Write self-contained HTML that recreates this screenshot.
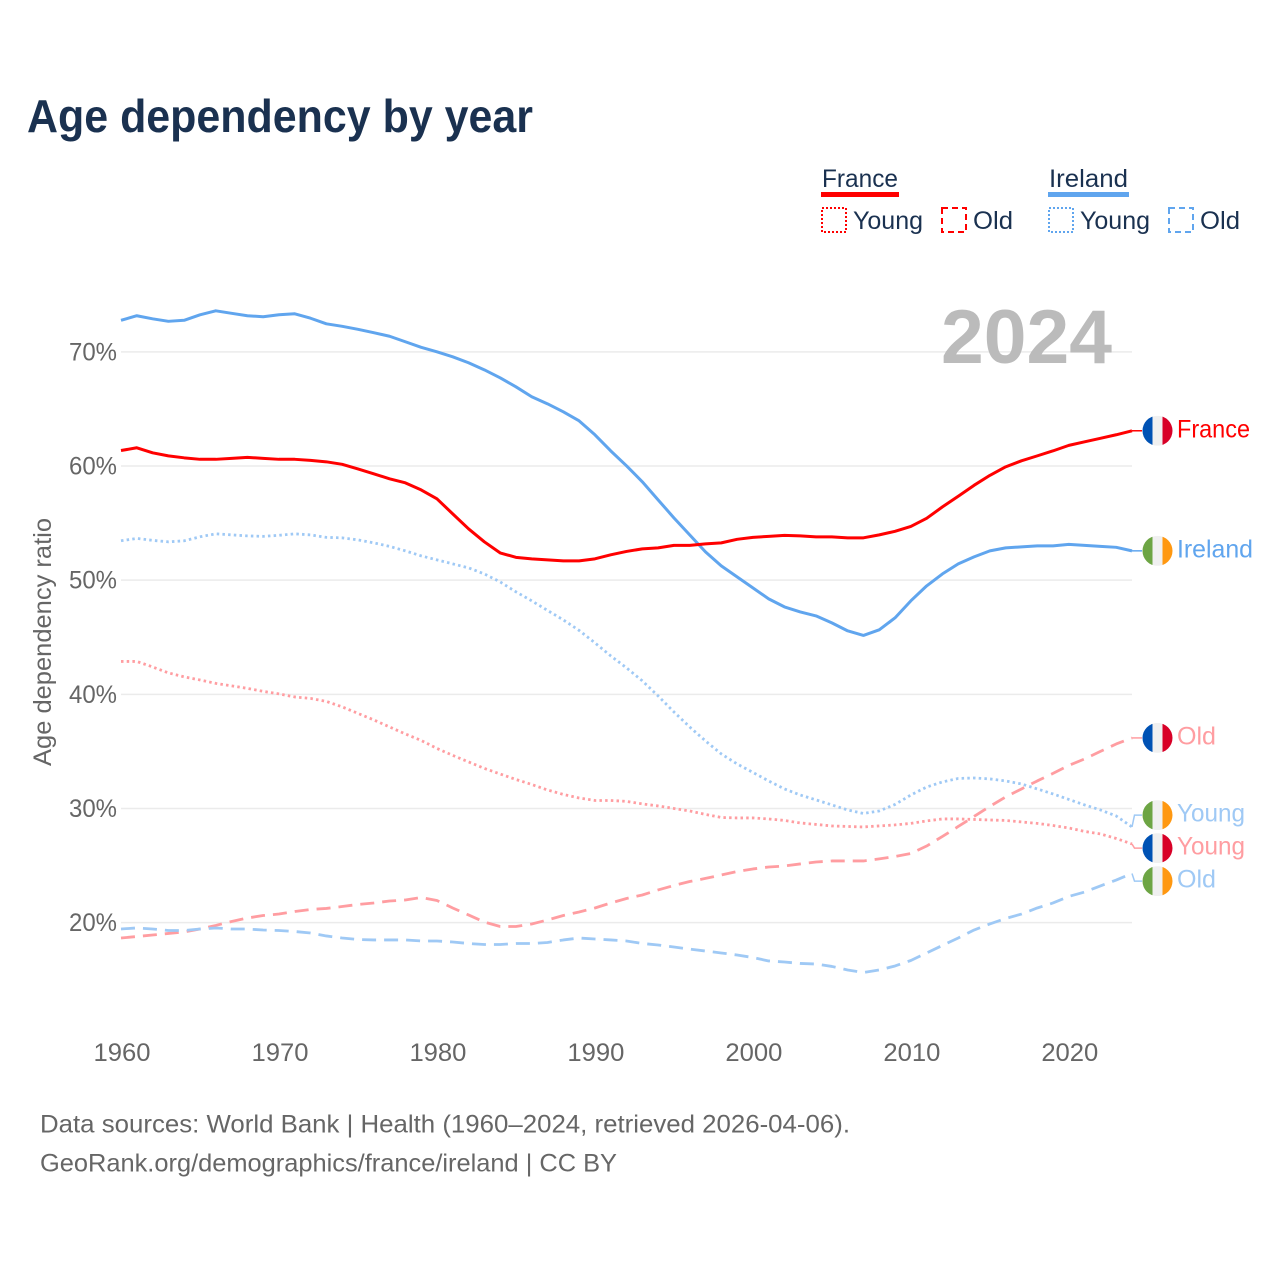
<!DOCTYPE html>
<html lang="en">
<head>
<meta charset="utf-8">
<title>Age dependency by year</title>
<style>
html,body{margin:0;padding:0;background:#fff;width:1280px;height:1280px;overflow:hidden}
svg{display:block;font-family:"Liberation Sans",sans-serif}
</style>
</head>
<body>
<svg id="chart" width="1280" height="1280" viewBox="0 0 1280 1280" xmlns="http://www.w3.org/2000/svg">
  <defs>
    <clipPath id="flag-clip"><circle cx="0" cy="0" r="15"/></clipPath>
  </defs>
  <text x="27" y="132" font-size="46" font-weight="700" fill="#1a3150" textLength="506" lengthAdjust="spacingAndGlyphs">Age dependency by year</text>

  <g>
    <g>
      <text x="822" y="187" font-size="25" fill="#1a3150" textLength="76" lengthAdjust="spacingAndGlyphs">France</text>
      <rect x="821" y="192" width="78" height="5" fill="#ff0000"/>
      <rect x="822" y="208" width="24" height="24" fill="none" stroke="#ff0000" stroke-width="2" stroke-dasharray="2 2"/>
      <text x="853" y="229" font-size="25" fill="#1a3150" textLength="70" lengthAdjust="spacingAndGlyphs">Young</text>
      <rect x="942" y="208" width="24" height="24" fill="none" stroke="#ff0000" stroke-width="2" stroke-dasharray="6 4"/>
      <text x="973" y="229" font-size="25" fill="#1a3150" textLength="40" lengthAdjust="spacingAndGlyphs">Old</text>
    </g>
    <g>
      <text x="1049" y="187" font-size="25" fill="#1a3150" textLength="79" lengthAdjust="spacingAndGlyphs">Ireland</text>
      <rect x="1048" y="192" width="81" height="5" fill="#60a5ee"/>
      <rect x="1049" y="208" width="24" height="24" fill="none" stroke="#60a5ee" stroke-width="2" stroke-dasharray="2 2"/>
      <text x="1080" y="229" font-size="25" fill="#1a3150" textLength="70" lengthAdjust="spacingAndGlyphs">Young</text>
      <rect x="1169" y="208" width="24" height="24" fill="none" stroke="#60a5ee" stroke-width="2" stroke-dasharray="6 4"/>
      <text x="1200" y="229" font-size="25" fill="#1a3150" textLength="40" lengthAdjust="spacingAndGlyphs">Old</text>
    </g>
  </g>

  <g id="grid"></g>
  <text x="941" y="363" font-size="76" font-weight="700" fill="#bbbbbb" textLength="171" lengthAdjust="spacingAndGlyphs">2024</text>
  <g id="y-axis"></g>
  <g id="x-axis"></g>
  <text transform="translate(51 642) rotate(-90)" text-anchor="middle" font-size="25" fill="#666666" textLength="248" lengthAdjust="spacingAndGlyphs">Age dependency ratio</text>
  <g id="series"></g>
  <g id="end-labels"></g>

  <text x="40" y="1132.5" font-size="25" fill="#666666" textLength="810" lengthAdjust="spacingAndGlyphs">Data sources: World Bank | Health (1960–2024, retrieved 2026-04-06).</text>
  <text x="40" y="1171.5" font-size="25" fill="#666666" textLength="577" lengthAdjust="spacingAndGlyphs">GeoRank.org/demographics/france/ireland | CC BY</text>
</svg>

<script>
const years = [1960,1961,1962,1963,1964,1965,1966,1967,1968,1969,1970,1971,1972,1973,1974,1975,1976,1977,1978,1979,1980,1981,1982,1983,1984,1985,1986,1987,1988,1989,1990,1991,1992,1993,1994,1995,1996,1997,1998,1999,2000,2001,2002,2003,2004,2005,2006,2007,2008,2009,2010,2011,2012,2013,2014,2015,2016,2017,2018,2019,2020,2021,2022,2023,2024];
const yTickValues = [20,30,40,50,60,70];
const xTickValues = [1960,1970,1980,1990,2000,2010,2020];

const franceTotal = [61.36,61.6,61.16,60.89,60.72,60.59,60.59,60.67,60.76,60.67,60.59,60.59,60.5,60.37,60.15,59.75,59.32,58.88,58.53,57.91,57.13,55.81,54.5,53.36,52.39,52.0,51.87,51.78,51.69,51.69,51.87,52.22,52.52,52.74,52.83,53.05,53.05,53.18,53.27,53.58,53.75,53.84,53.93,53.88,53.79,53.79,53.71,53.71,53.97,54.28,54.71,55.42,56.42,57.35,58.31,59.18,59.93,60.46,60.89,61.33,61.81,62.12,62.43,62.74,63.09];
const irelandTotal = [72.77,73.17,72.9,72.68,72.77,73.25,73.6,73.38,73.17,73.08,73.25,73.34,72.95,72.46,72.24,71.98,71.68,71.37,70.89,70.4,70.01,69.57,69.05,68.43,67.73,66.94,66.07,65.45,64.75,63.96,62.74,61.33,60.02,58.62,57.04,55.46,53.97,52.48,51.25,50.29,49.33,48.36,47.66,47.22,46.87,46.26,45.56,45.16,45.65,46.7,48.19,49.5,50.55,51.43,52.04,52.57,52.83,52.92,53.01,53.01,53.14,53.05,52.96,52.88,52.57];
const franceYoung = [42.88,42.88,42.4,41.88,41.53,41.26,40.96,40.74,40.52,40.26,40.04,39.77,39.64,39.38,38.9,38.33,37.76,37.14,36.53,35.96,35.26,34.65,34.08,33.51,33.02,32.54,32.1,31.62,31.23,30.92,30.7,30.7,30.62,30.4,30.22,30.0,29.78,29.48,29.21,29.17,29.17,29.08,28.95,28.73,28.6,28.47,28.42,28.38,28.47,28.56,28.69,28.91,29.08,29.08,29.04,28.99,28.95,28.82,28.69,28.51,28.29,27.99,27.77,27.37,26.89];
const franceOld = [18.65,18.78,18.91,19.05,19.18,19.44,19.75,20.1,20.4,20.62,20.75,20.97,21.15,21.24,21.41,21.59,21.72,21.89,21.98,22.2,21.94,21.28,20.67,20.05,19.66,19.66,19.88,20.23,20.62,20.93,21.28,21.72,22.11,22.42,22.86,23.25,23.6,23.87,24.17,24.48,24.7,24.87,24.96,25.14,25.31,25.4,25.4,25.4,25.58,25.79,26.06,26.71,27.55,28.42,29.3,30.18,31.01,31.71,32.41,33.07,33.77,34.34,35.0,35.65,36.18];
const irelandYoung = [53.45,53.66,53.49,53.36,53.45,53.8,54.06,53.97,53.88,53.84,53.93,54.06,53.97,53.75,53.71,53.53,53.27,52.96,52.57,52.13,51.78,51.43,51.08,50.55,49.85,48.98,48.19,47.35,46.52,45.6,44.51,43.37,42.32,41.18,39.86,38.46,37.14,35.92,34.78,33.9,33.16,32.41,31.71,31.18,30.75,30.31,29.87,29.56,29.78,30.35,31.18,31.88,32.32,32.63,32.67,32.59,32.41,32.15,31.71,31.27,30.79,30.31,29.87,29.34,28.38];
const irelandOld = [19.44,19.53,19.44,19.31,19.31,19.44,19.53,19.44,19.44,19.35,19.31,19.22,19.09,18.83,18.65,18.52,18.48,18.48,18.48,18.39,18.39,18.3,18.17,18.08,18.08,18.17,18.17,18.26,18.48,18.65,18.56,18.48,18.39,18.17,18.04,17.86,17.68,17.51,17.34,17.16,16.94,16.64,16.55,16.42,16.37,16.16,15.85,15.63,15.85,16.2,16.68,17.34,18.0,18.65,19.35,19.88,20.36,20.75,21.28,21.72,22.29,22.68,23.21,23.73,24.3];

const xScale = year => 121 + (year - 1960) * (1132 - 121) / 64;
const yScale = value => 922.6 - (value - 20) * 11.414;

const NS = 'http://www.w3.org/2000/svg';
function make(tag, attrs, parent) {
  const el = document.createElementNS(NS, tag);
  for (const k in attrs) el.setAttribute(k, attrs[k]);
  parent.appendChild(el);
  return el;
}

const gridG = document.getElementById('grid');
const yAxisG = document.getElementById('y-axis');
const xAxisG = document.getElementById('x-axis');
const seriesG = document.getElementById('series');
const labelsG = document.getElementById('end-labels');

yTickValues.forEach(v => {
  const line = make('line', {x1: 121, x2: 1132, y1: yScale(v), y2: yScale(v), stroke: '#ebebeb', 'stroke-width': 1.5}, gridG);
  
  
  const t = make('text', {x: 69, y: yScale(v) + 8.5, 'font-size': 25, fill: '#666666', textLength: 48, lengthAdjust: 'spacingAndGlyphs'}, yAxisG);
  t.textContent = v + '%';
  
  
});

xTickValues.forEach(yr => {
  const t = make('text', {x: xScale(yr) - 27.5, y: 1061, 'font-size': 25, fill: '#666666', textLength: 57, lengthAdjust: 'spacingAndGlyphs'}, xAxisG);
  t.textContent = String(yr);
  
  
});

const seriesList = [
  {id: 'france-young', values: franceYoung, color: '#ff9da1', width: 2.8, dash: '2.5 3.2', label: 'Young', country: 'fr'},
  {id: 'france-old', values: franceOld, color: '#ff9da1', width: 2.8, dash: '14 8', label: 'Old', country: 'fr'},
  {id: 'ireland-young', values: irelandYoung, color: '#9fc9f5', width: 2.8, dash: '2.5 3.2', label: 'Young', country: 'ie'},
  {id: 'ireland-old', values: irelandOld, color: '#9fc9f5', width: 2.8, dash: '14 8', label: 'Old', country: 'ie'},
  {id: 'ireland-total', values: irelandTotal, color: '#60a5ee', width: 3, dash: '', label: 'Ireland', country: 'ie'},
  {id: 'france-total', values: franceTotal, color: '#ff0000', width: 3, dash: '', label: 'France', country: 'fr'}
];

const labelWidths = {France: 73, Ireland: 76, Young: 68, Old: 39};
const labelStep = 33;

// Place end labels: overlapping ones merge into clusters centred on their mean.
function layoutLabels(list) {
  const sorted = list.map(s => ({s: s, y: yScale(s.values[s.values.length - 1])})).sort((a, b) => a.y - b.y);
  let clusters = sorted.map(e => ({items: [e], mean: e.y}));
  let changed = true;
  while (changed) {
    changed = false;
    for (let i = 0; i < clusters.length - 1; i++) {
      const a = clusters[i], b = clusters[i + 1];
      const aBottom = a.mean + (a.items.length - 1) * labelStep / 2;
      const bTop = b.mean - (b.items.length - 1) * labelStep / 2;
      if (bTop - aBottom < labelStep) {
        const items = a.items.concat(b.items);
        const mean = items.reduce((sum, e) => sum + e.y, 0) / items.length;
        clusters.splice(i, 2, {items: items, mean: mean});
        changed = true;
        break;
      }
    }
  }
  const placed = new Map();
  clusters.forEach(c => c.items.forEach((e, i) => {
    placed.set(e.s.id, c.mean + (i - (c.items.length - 1) / 2) * labelStep);
  }));
  return placed;
}
const labelY = layoutLabels(seriesList);

const flagStripes = {
  fr: ['#0052b4', '#f0f0f0', '#d80027'],
  ie: ['#6da544', '#f0f0f0', '#ff9811']
};

seriesList.forEach(s => {
  const pts = s.values.map((v, i) => xScale(years[i]).toFixed(2) + ',' + yScale(v).toFixed(2)).join(' ');
  const attrs = {points: pts, fill: 'none', stroke: s.color, 'stroke-width': s.width, 'stroke-linejoin': 'round'};
  if (s.dash) attrs['stroke-dasharray'] = s.dash;
  const line = make('polyline', attrs, seriesG);
  
  

  const endX = xScale(years[years.length - 1]);
  const endY = yScale(s.values[s.values.length - 1]);
  const ly = labelY.get(s.id);
  const conn = make('polyline', {
    points: endX + ',' + endY + ' ' + (endX + 2.5) + ',' + ly + ' 1142,' + ly,
    fill: 'none', stroke: s.color, 'stroke-width': 1.5
  }, labelsG);
  
  

  const flag = make('g', {transform: 'translate(1157.5 ' + ly + ')', 'clip-path': 'url(#flag-clip)'}, labelsG);
  
  
  const stripes = flagStripes[s.country];
  make('rect', {x: -15, y: -15, width: 10, height: 30, fill: stripes[0]}, flag);
  make('rect', {x: -5, y: -15, width: 10, height: 30, fill: stripes[1]}, flag);
  make('rect', {x: 5, y: -15, width: 10, height: 30, fill: stripes[2]}, flag);

  const t = make('text', {x: 1177, y: ly + 6.5, 'font-size': 25, fill: s.color, textLength: labelWidths[s.label], lengthAdjust: 'spacingAndGlyphs'}, labelsG);
  t.textContent = s.label;
  
  
});
</script>
</body>
</html>
